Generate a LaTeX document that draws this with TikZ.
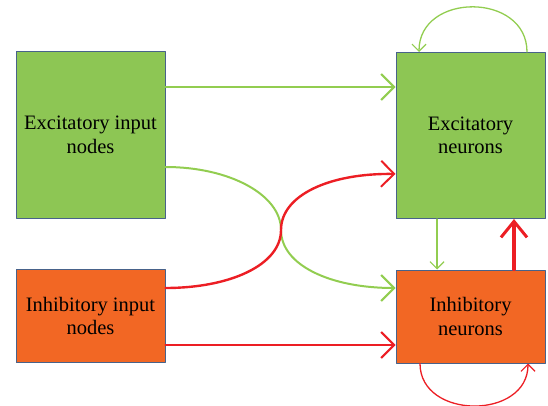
\documentclass[tikz,border=0pt]{standalone}
\usepackage{fontspec}
\setmainfont{Liberation Serif}
\usepackage{tikz}
\usetikzlibrary{arrows.meta}
\definecolor{boxgreen}{RGB}{141,198,84}
\definecolor{boxorange}{RGB}{242,103,36}
\definecolor{boxedge}{RGB}{72,98,138}
\definecolor{linegreen}{RGB}{146,205,80}
\definecolor{linered}{RGB}{236,30,36}

\begin{document}
\begin{tikzpicture}[line cap=round,line join=round,x=1pt,y=-1pt,
  box/.style={draw=boxedge,line width=1pt,minimum width=149pt,align=center,inner sep=0pt,font=\fontsize{20.5}{23.5}\selectfont},
  tallbox/.style={box,minimum height=166pt},
  lowbox/.style={box,minimum height=93pt},
  bighead/.style={-{Straight Barb[length=13pt,width=26pt,line width=2pt]}},
  smallhead/.style={-{Straight Barb[length=7pt,width=14pt,line width=1.2pt]}}]
\useasboundingbox (0,0) rectangle (548,406);
% boxes
\node[tallbox,fill=boxgreen] (excin) at (90.5,135) {Excitatory input\\nodes};
\node[lowbox,fill=boxorange] (inhin) at (90.5,316) {Inhibitory input\\nodes};
\node[tallbox,fill=boxgreen] (excneu) at (470.5,135.5) {Excitatory\\neurons};
\node[lowbox,fill=boxorange] (inhneu) at (470.5,316.5) {Inhibitory\\neurons};
\coordinate (cross) at (281,230);
% input connections
\draw[linegreen,line width=2pt,bighead] ([yshift=48pt]excin.east) -- ([yshift=48.5pt]excneu.west);
\draw[linered,line width=2.4pt,bighead] ([yshift=-29pt]inhin.east) -- ([yshift=-28.5pt]inhneu.west);
\draw[linegreen,line width=2pt,bighead] ([yshift=-32pt]excin.east) .. controls (230,167) and (281,195) .. (cross) .. controls (281,265) and (330,288) .. ([yshift=28.5pt]inhneu.west);
\draw[linered,line width=2.4pt,bighead] ([yshift=28pt]inhin.east) .. controls (230,288) and (281,265) .. (cross) .. controls (281,195) and (330,173) .. ([yshift=-38.5pt]excneu.west);
% between the populations
\draw[linegreen,line width=1.2pt,smallhead] ([xshift=-33.5pt]excneu.south) -- ([xshift=-33.5pt]inhneu.north);
\draw[linered,line width=3.2pt,-{Straight Barb[length=16pt,width=26pt,line width=3pt]}] ([xshift=43.5pt]inhneu.north) -- ([xshift=43.5pt]excneu.south);
% self loops
\draw[linegreen,line width=1.3pt,smallhead] ([xshift=56.5pt]excneu.north) .. controls (527,-8) and (419,-8) .. ([xshift=-51.5pt]excneu.north);
\draw[linered,line width=1.3pt,smallhead] ([xshift=-50.5pt]inhneu.south) .. controls (420,420) and (528,420) .. ([xshift=57.5pt]inhneu.south);
\end{tikzpicture}
\end{document}
